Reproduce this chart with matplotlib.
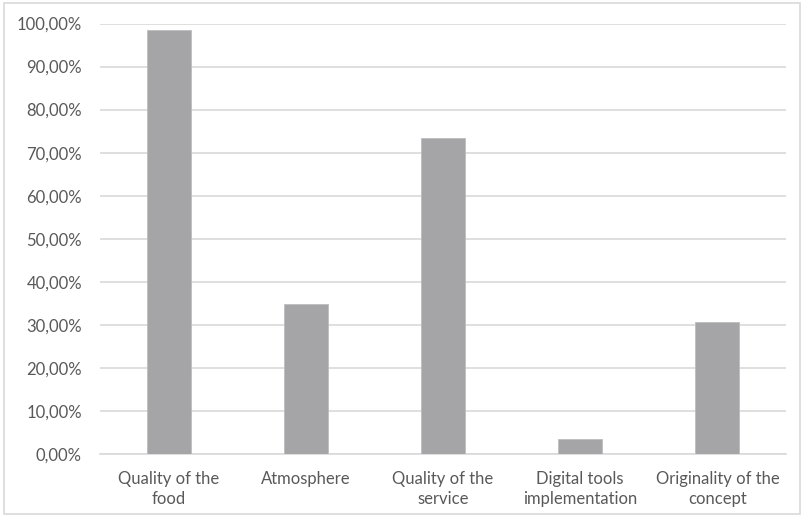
import matplotlib
matplotlib.use("Agg")
import matplotlib.pyplot as plt
from matplotlib.patches import Rectangle
from matplotlib.ticker import FuncFormatter

categories = ["Quality of the\nfood", "Atmosphere", "Quality of the\nservice",
              "Digital tools\nimplementation", "Originality of the\nconcept"]
values = [98.4, 34.8, 73.5, 3.6, 30.7]
y_ticks = [0, 10, 20, 30, 40, 50, 60, 70, 80, 90, 100]

plt.rcParams["font.family"] = ["Lato", "DejaVu Sans"]
text_color = "#595959"

fig = plt.figure(figsize=(8.05, 5.18), dpi=100)
ax = fig.add_axes([100 / 805, 1 - 454 / 518, 686 / 805, (454 - 23.5) / 518])

x = range(len(categories))
ax.bar(x, values, width=0.32, color="#a5a5a7", edgecolor="#bdbdbf", linewidth=0.6, zorder=3)

ax.set_xlim(-0.5, len(categories) - 0.5)
ax.set_ylim(0, 100)
ax.set_yticks(y_ticks)
ax.yaxis.set_major_formatter(FuncFormatter(lambda v, _: f"{v:.2f}".replace(".", ",") + "%"))
ax.set_xticks(list(x))
ax.set_xticklabels(categories, linespacing=1.3)

ax.grid(axis="y", color="#d9d9d9", linewidth=1.2, zorder=0)
for side in ["top", "right", "left"]:
    ax.spines[side].set_visible(False)
ax.spines["bottom"].set_color("#d9d9d9")
ax.spines["bottom"].set_linewidth(1.2)
ax.tick_params(axis="both", length=0, colors=text_color, labelsize=12)
ax.tick_params(axis="y", pad=13)
ax.tick_params(axis="x", pad=12)

fig.patches.append(Rectangle((4 / 805, 4 / 518), 796 / 805, 511 / 518, transform=fig.transFigure,
                             fill=False, edgecolor="#d9d9d9", linewidth=1.2))

fig.savefig("out.png", dpi=100, facecolor="white")
